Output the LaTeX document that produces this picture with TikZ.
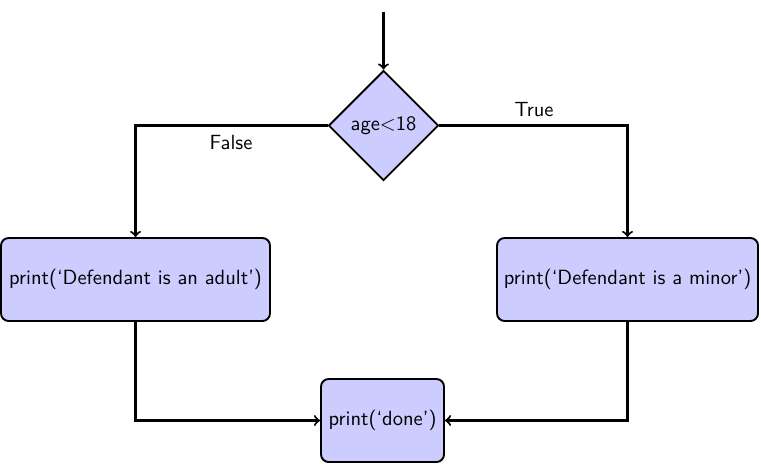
\documentclass[tikz,border=0pt]{standalone}
\usetikzlibrary{shapes.geometric}
\begin{document}
\begin{tikzpicture}[x=0.5263pt,y=-0.5263pt,
  font=\sffamily\fontsize{10.8}{13}\selectfont,
  every node/.style={inner sep=2pt},
  decbox/.style={diamond,draw,line width=1pt,fill=blue!20,minimum width=57.89pt,minimum height=57.89pt,inner sep=0pt,aspect=1},
  stmtbox/.style={rectangle,rounded corners=4pt,draw,line width=1pt,fill=blue!20,minimum height=43.68pt,inner sep=2pt},
  conn/.style={line width=1.1pt,->}]
\useasboundingbox (0,0) rectangle (761,463);
\coordinate (start) at (383.5,12);
\node[decbox] (dec) at (383.5,125.5) {age<18};
\node[stmtbox,minimum width=141.57pt] (adult) at (135.5,279.5) {print(`Defendant is an adult')};
\node[stmtbox,minimum width=137.36pt] (minor) at (627.5,279.5) {print(`Defendant is a minor')};
\node[stmtbox,minimum width=64.73pt] (done) at (382.5,420.5) {print(`done')};
\draw[conn] (start) -- (dec.north);
\draw[conn] (dec.west) -| (adult.north);
\draw[conn] (dec.east) -| (minor.north);
\draw[conn] (adult.south) |- (done.west);
\draw[conn] (minor.south) |- (done.east);
\node (lfalse) at (231,142) {False};
\node (ltrue) at (534,110) {True};
\end{tikzpicture}
\end{document}
